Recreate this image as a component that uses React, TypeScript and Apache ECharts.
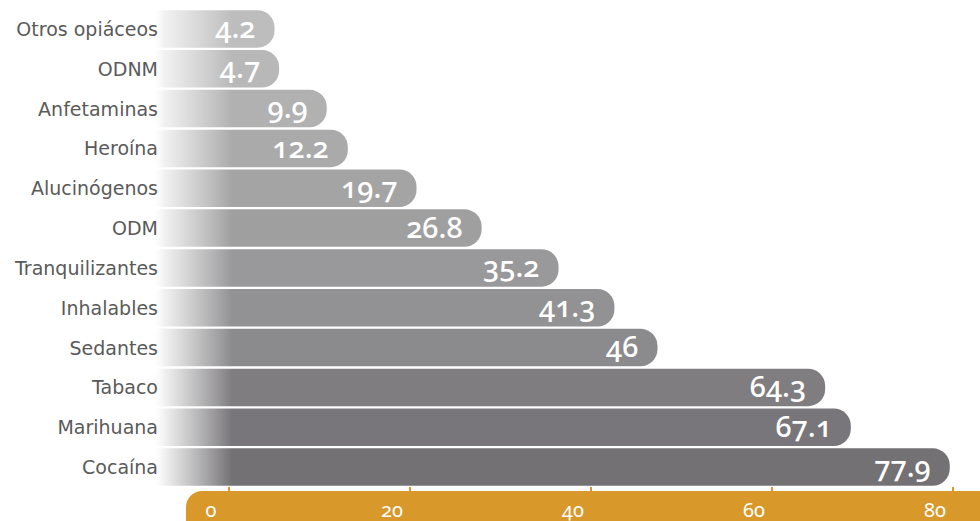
import React, { useEffect, useRef } from "react";
import * as echarts from "echarts";

const categories = [
  "Otros opiáceos",
  "ODNM",
  "Anfetaminas",
  "Heroína",
  "Alucinógenos",
  "ODM",
  "Tranquilizantes",
  "Inhalables",
  "Sedantes",
  "Tabaco",
  "Marihuana",
  "Cocaína",
];
const values = [4.2, 4.7, 9.9, 12.2, 19.7, 26.8, 35.2, 41.3, 46, 64.3, 67.1, 77.9];
const tickValues = [0, 20, 40, 60, 80];

const barColors = [
  "#bebdbe", "#b9b8b9", "#b2b1b2", "#abaaab", "#a5a4a5", "#a09fa0",
  "#99989a", "#929193", "#8b8a8c", "#7f7d80", "#78767a", "#737174",
];
const FONT = "'Noto Sans', 'Open Sans', sans-serif";
const LABEL_FONT = "'DejaVu Sans', 'Noto Sans', sans-serif";
const ORANGE = "#d8982a";

export default function App() {
  const ref = useRef<HTMLDivElement>(null);
  useEffect(() => {
    if (!ref.current) return;
    const chart = echarts.init(ref.current, null, { renderer: "svg" });
    const data = values.map((v, i) => [v, i]);
    chart.setOption({
      animation: false,
      grid: [
        { left: 150, right: 0, top: 9, bottom: 34 },
        { left: 229, right: 27, top: 487, height: 6 },
      ],
      xAxis: [
        { gridIndex: 0, type: "value", min: -9.39, max: 81.2, show: false },
        {
          gridIndex: 1,
          type: "value",
          min: 0,
          max: 80,
          interval: 20,
          z: 10,
          position: "bottom",
          axisLine: { show: false },
          splitLine: { show: false },
          axisTick: { show: true, inside: true, length: 6, lineStyle: { color: ORANGE, width: 2 } },
          axisLabel: {
            color: "#ffffff",
            fontSize: 20,
            fontFamily: FONT,
            margin: 6,
            padding: [0, 36, 0, 0],
            customValues: tickValues,
          },
        },
      ],
      yAxis: [
        {
          gridIndex: 0,
          type: "category",
          data: categories,
          inverse: true,
          z: 10,
          axisLine: { show: false },
          axisTick: { show: false },
          splitLine: { show: false },
          axisLabel: { color: "#5a5a5a", fontSize: 19, fontFamily: LABEL_FONT, margin: -8 },
        },
        { gridIndex: 1, type: "value", show: false },
      ],
      graphic: [
        {
          type: "rect",
          z: 0,
          shape: { x: 186, y: 491, width: 830, height: 60, r: 16 },
          style: { fill: ORANGE },
        },
      ],
      series: [
        {
          type: "custom",
          xAxisIndex: 0,
          yAxisIndex: 0,
          encode: { x: 0, y: 1 },
          data,
          renderItem: (params: any, api: any) => {
            const v = api.value(0);
            const idx = api.value(1);
            const end = api.coord([v, idx]);
            const zero = api.coord([0, idx]);
            const band = api.size([0, 1])[1];
            const h = band * 0.94;
            const left = params.coordSys.x;
            const color = barColors[idx];
            const grad = new echarts.graphic.LinearGradient(
              left + 2, 0, zero[0] - 4, 0,
              [
                { offset: 0, color: "rgba(255,255,255,0)" },
                { offset: 0.15, color: "rgba(240,240,240,0.9)" },
                { offset: 1, color },
              ],
              true
            );
            return {
              type: "group",
              children: [
                {
                  type: "rect",
                  shape: { x: left, y: end[1] - h / 2, width: end[0] - left, height: h, r: [0, 17, 17, 0] },
                  style: { fill: grad },
                },
                {
                  type: "text",
                  style: {
                    x: end[0] - 19,
                    y: end[1] - 2,
                    text: String(v),
                    align: "right",
                    verticalAlign: "middle",
                    fill: "#ffffff",
                    fontSize: 29,
                    fontWeight: 500,
                    fontFamily: FONT,
                  },
                },
              ],
            };
          },
        },
      ],
    });
    return () => chart.dispose();
  }, []);
  return (
    <div
      ref={ref}
      style={{ width: 980, height: 521, position: "absolute", left: 0, top: 0, fontFeatureSettings: '"onum"' }}
    />
  );
}
